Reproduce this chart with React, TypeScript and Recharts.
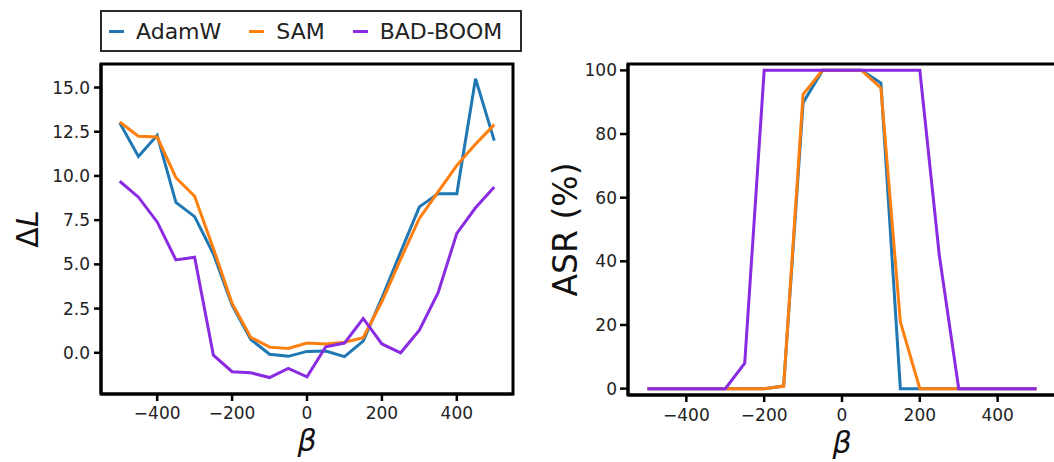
import React from 'react';
import { LineChart, Line, XAxis, YAxis, ReferenceArea } from 'recharts';

// beta values shared by both panels
const betas = [-500, -450, -400, -350, -300, -250, -200, -150, -100, -50, 0, 50, 100, 150, 200, 250, 300, 350, 400, 450, 500];

// left panel: loss gap (ΔL)
const adamwLoss = [13.0, 11.1, 12.3, 8.5, 7.7, 5.6, 2.7, 0.75, -0.08, -0.2, 0.08, 0.1, -0.22, 0.66, 3.1, 5.7, 8.25, 9.0, 9.0, 15.5, 12.0];
const samLoss = [13.05, 12.25, 12.2, 9.9, 8.85, 5.9, 2.8, 0.87, 0.32, 0.25, 0.55, 0.5, 0.6, 0.85, 2.9, 5.3, 7.6, 9.1, 10.6, 11.8, 12.9];
const badBoomLoss = [9.7, 8.8, 7.4, 5.25, 5.4, -0.13, -1.07, -1.13, -1.4, -0.88, -1.36, 0.34, 0.55, 1.94, 0.5, 0.0, 1.28, 3.4, 6.75, 8.2, 9.38];

// right panel: attack success rate (%)
const adamwAsr = [0, 0, 0, 0, 0, 0, 0, 0.8, 89.8, 100, 100, 100, 96, 0, 0, 0, 0, 0, 0, 0, 0];
const samAsr = [0, 0, 0, 0, 0, 0, 0, 0.8, 92.5, 100, 100, 100, 94.5, 21, 0, 0, 0, 0, 0, 0, 0];
const badBoomAsr = [0, 0, 0, 0, 0, 8, 100, 100, 100, 100, 100, 100, 100, 100, 100, 42, 0, 0, 0, 0, 0];

const xTicks = [-400, -200, 0, 200, 400];
const lossTicks = [0, 2.5, 5, 7.5, 10, 12.5, 15];
const asrTicks = [0, 20, 40, 60, 80, 100];

const xDomain: [number, number] = [-550, 550];
const lossDomain: [number, number] = [-2.33, 16.33];
const asrDomain: [number, number] = [-2, 102];

const series = [
    { key: 'adamw', name: 'AdamW', color: '#1f77b4' },
    { key: 'sam', name: 'SAM', color: '#ff7f0e' },
    { key: 'badboom', name: 'BAD-BOOM', color: '#8a2be2' },
];

const lossData = betas.map((b, i) => ({ beta: b, adamw: adamwLoss[i], sam: samLoss[i], badboom: badBoomLoss[i] }));
const asrData = betas.map((b, i) => ({ beta: b, adamw: adamwAsr[i], sam: samAsr[i], badboom: badBoomAsr[i] }));

const FONT = '"DejaVu Sans", sans-serif';
const tickStyle = { fontSize: 17, fill: '#222', fontFamily: FONT };
const spine = { stroke: '#000', strokeWidth: 3 };
const tickLine = { stroke: '#000', strokeWidth: 2.5 };

const fmtX = (v: number) => (v < 0 ? '\u2212' + Math.abs(v) : String(v));

const BetaLabel = (props: any) => {
    const { viewBox, dy } = props;
    if (!viewBox) return null;
    return (
        <text x={viewBox.x + viewBox.width / 2} y={viewBox.y + dy} textAnchor="middle"
            fontSize={30} fontStyle="italic" fontFamily={FONT} fill="#111">
            β
        </text>
    );
};

const YLabel = (props: any) => {
    const { viewBox, cxOffset, size, children } = props;
    if (!viewBox) return null;
    const cx = viewBox.x + cxOffset;
    const cy = viewBox.y + viewBox.height / 2;
    return (
        <text x={cx} y={cy} transform={`rotate(-90 ${cx} ${cy})`} textAnchor="middle"
            dominantBaseline="central" fontSize={size} fontFamily={FONT} fill="#111">
            {children}
        </text>
    );
};

const Legend = () => (
    <div style={{
        position: 'absolute', left: 100, top: 10, width: 411, height: 38,
        border: '2px solid #2a2a2a', background: '#fff',
        display: 'flex', alignItems: 'center', paddingLeft: 7, boxSizing: 'content-box',
        fontFamily: FONT, fontSize: 22, color: '#222', whiteSpace: 'nowrap'
    }}>
        {series.map(s => (
            <div key={s.key} style={{ display: 'flex', alignItems: 'center', marginRight: 28, flexShrink: 0 }}>
                <div style={{ width: 15, height: 3, background: s.color, marginRight: 12 }}></div>
                <span>{s.name}</span>
            </div>
        ))}
    </div>
);

const lines = series.map(s => (
    <Line key={s.key} type="linear" dataKey={s.key} stroke={s.color} strokeWidth={3}
        dot={false} isAnimationActive={false} />
));

export default function App() {
    return (
        <div style={{ position: 'absolute', left: 0, top: 0, width: 1054, height: 462, overflow: 'hidden', background: '#fff' }}>
            <div style={{ position: 'absolute', left: 0, top: 0 }}>
                <LineChart width={530} height={462} data={lossData} margin={{ top: 64, right: 17, bottom: 0, left: 0 }}>
                    <XAxis dataKey="beta" type="number" domain={xDomain} ticks={xTicks} allowDataOverflow
                        tickFormatter={fmtX} tick={tickStyle} axisLine={spine} tickLine={tickLine}
                        tickSize={7} tickMargin={6} height={68}
                        label={<BetaLabel dy={57} />} />
                    <YAxis type="number" domain={lossDomain} ticks={lossTicks} allowDataOverflow
                        tickFormatter={(v: number) => v.toFixed(1)} tick={tickStyle} axisLine={spine}
                        tickLine={tickLine} tickSize={7} tickMargin={4} width={101}
                        label={<YLabel cxOffset={27} size={30}>Δ<tspan fontStyle="italic">L</tspan></YLabel>} />
                    {/* frame (matplotlib spines) */}
                    <ReferenceArea x1={xDomain[0]} x2={xDomain[1]} y1={lossDomain[0]} y2={lossDomain[1]}
                        fill="none" stroke="#000" strokeWidth={3} ifOverflow="visible" />
                    {lines}
                </LineChart>
            </div>
            <div style={{ position: 'absolute', left: 540, top: 0 }}>
                <LineChart width={516} height={462} data={asrData} margin={{ top: 64, right: 0, bottom: 0, left: 0 }}>
                    <XAxis dataKey="beta" type="number" domain={xDomain} ticks={xTicks} allowDataOverflow
                        tickFormatter={fmtX} tick={tickStyle} axisLine={spine} tickLine={tickLine}
                        tickSize={7} tickMargin={7} height={67}
                        label={<BetaLabel dy={58} />} />
                    <YAxis type="number" domain={asrDomain} ticks={asrTicks} allowDataOverflow
                        tick={tickStyle} axisLine={spine} tickLine={tickLine} tickSize={8} tickMargin={3} width={88}
                        label={<YLabel cxOffset={25} size={33}>ASR (%)</YLabel>} />
                    <ReferenceArea x1={xDomain[0]} x2={xDomain[1]} y1={asrDomain[0]} y2={asrDomain[1]}
                        fill="none" stroke="#000" strokeWidth={3} ifOverflow="visible" />
                    {lines}
                </LineChart>
            </div>
            <Legend />
        </div>
    );
}
